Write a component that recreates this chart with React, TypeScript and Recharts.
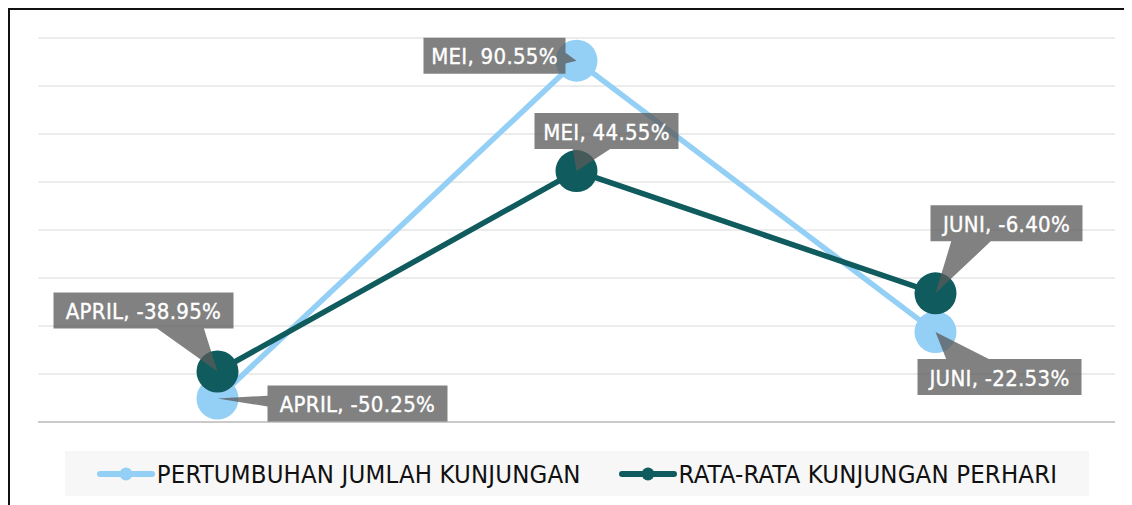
import React from 'react';
import { LineChart, Line, XAxis, YAxis, CartesianGrid, ReferenceLine, Legend, LabelList } from 'recharts';

const months = ['APRIL', 'MEI', 'JUNI'];
const pertumbuhan = [-50.25, 90.55, -22.53];
const rataRata = [-38.95, 44.55, -6.4];
const yTicks = [-60, -40, -20, 0, 20, 40, 60, 80, 100];
const seriesNames = ['PERTUMBUHAN JUMLAH KUNJUNGAN', 'RATA-RATA KUNJUNGAN PERHARI'];

const LIGHT = '#94d0f5';
const DARK = '#0f5b5d';
const FONT = "'DejaVu Sans Condensed', 'DejaVu Sans', sans-serif";

// callout placement (offset of box centre from the point, box width)
const lightPlacement = [
  { dx: 140, dy: 5, w: 180 },
  { dx: -82, dy: -5, w: 142 },
  { dx: 64, dy: 45, w: 164 },
];
const darkPlacement = [
  { dx: -74, dy: -61, w: 180 },
  { dx: 30, dy: -40, w: 144 },
  { dx: 71, dy: -70, w: 152 },
];

const data = months.map((m, i) => ({ month: m, pertumbuhan: pertumbuhan[i], rata: rataRata[i] }));

const clamp = (v: number, a: number, b: number) => Math.max(a, Math.min(b, v));

function makeCallout(placement: { dx: number; dy: number; w: number }[]) {
  return (props: any) => {
    const { x, y, value, index } = props;
    if (x == null || y == null) return null;
    const p = placement[index];
    const w = p.w;
    const h = 36;
    const cx = x + p.dx;
    const cy = y + p.dy;
    const x0 = cx - w / 2, x1 = cx + w / 2, y0 = cy - h / 2, y1 = cy + h / 2;
    let d = '';
    if (y > y1 || y < y0) {
      const hw = w * 0.13;
      const bc = clamp(cx + (x - cx) * 0.5, x0 + hw, x1 - hw);
      const b1 = bc - hw, b2 = bc + hw;
      if (y > y1) {
        d = `M${x0},${y0}H${x1}V${y1}H${b2}L${x},${y}L${b1},${y1}H${x0}Z`;
      } else {
        d = `M${x0},${y0}H${b1}L${x},${y}L${b2},${y0}H${x1}V${y1}H${x0}Z`;
      }
    } else {
      const hh = h * 0.15;
      const bc = clamp(cy + (y - cy) * 0.5, y0 + hh, y1 - hh);
      const b1 = bc - hh, b2 = bc + hh;
      if (x < x0) {
        d = `M${x0},${y0}H${x1}V${y1}H${x0}V${b2}L${x},${y}L${x0},${b1}Z`;
      } else {
        d = `M${x0},${y0}H${x1}V${b1}L${x},${y}L${x1},${b2}V${y1}H${x0}Z`;
      }
    }
    const label = `${months[index]}, ${Number(value).toFixed(2)}%`;
    return (
      <g>
        <path d={d} fill="#595959" fillOpacity={0.76} />
        <text
          x={cx}
          y={cy + 1}
          textAnchor="middle"
          dominantBaseline="central"
          fill="#ffffff"
          stroke="#ffffff"
          strokeWidth={0.35}
          fontSize={22}
          letterSpacing={0.3}
          fontFamily={FONT}
          style={{ fontStretch: 'condensed' }}
        >
          {label}
        </text>
      </g>
    );
  };
}

const LegendIcon = ({ color }: { color: string }) => (
  <svg width={58} height={16} style={{ display: 'block' }}>
    <line x1={3} y1={8} x2={55} y2={8} stroke={color} strokeWidth={6} strokeLinecap="round" />
    <circle cx={29} cy={8} r={6.5} fill={color} />
  </svg>
);

const renderLegend = () => {
  const colors = [LIGHT, DARK];
  return (
    <div
      style={{
        width: '100%',
        height: '100%',
        background: '#f7f7f7',
        display: 'flex',
        alignItems: 'center',
        justifyContent: 'center',
        fontFamily: FONT,
        fontStretch: 'condensed',
        fontSize: 25.5,
        color: '#111',
      }}
    >
      {seriesNames.map((n, i) => (
        <div key={n} style={{ display: 'flex', alignItems: 'center', marginLeft: i === 0 ? 0 : 38 }}>
          <LegendIcon color={colors[i]} />
          <span style={{ marginLeft: 2, whiteSpace: 'nowrap', lineHeight: '26px', letterSpacing: 0.15 }}>{n}</span>
        </div>
      ))}
    </div>
  );
};

export default function App() {
  return (
    <div style={{ position: 'relative', width: 1124, height: 497 }}>
      <div
        style={{
          position: 'absolute',
          left: 0,
          top: 0,
          width: 1130,
          height: 500,
          borderTop: '2px solid #111',
          borderLeft: '2px solid #111',
          boxSizing: 'border-box',
        }}
      />
      <div style={{ position: 'absolute', left: 0, top: 0 }}>
        <LineChart width={1124} height={497} data={data} margin={{ top: 30, right: 17, bottom: 83, left: 30 }}>
          <CartesianGrid vertical={false} stroke="#d9d9d9" strokeWidth={1} />
          <XAxis dataKey="month" hide scale="band" />
          <YAxis hide domain={[-60, 100]} ticks={yTicks} type="number" />
          <ReferenceLine y={-60} stroke="#bfbfbf" strokeWidth={1.5} />
          <Legend
            layout="horizontal"
            verticalAlign="middle"
            align="center"
            content={renderLegend}
            wrapperStyle={{ left: 57, top: 443, width: 1024, height: 45 }}
          />
          <Line
            dataKey="pertumbuhan"
            name={seriesNames[0]}
            stroke={LIGHT}
            strokeWidth={5.5}
            dot={{ r: 21, fill: LIGHT, stroke: 'none' }}
            activeDot={false}
            isAnimationActive={false}
          >
            <LabelList dataKey="pertumbuhan" content={makeCallout(lightPlacement)} />
          </Line>
          <Line
            dataKey="rata"
            name={seriesNames[1]}
            stroke={DARK}
            strokeWidth={5.5}
            dot={{ r: 21, fill: DARK, stroke: 'none' }}
            activeDot={false}
            isAnimationActive={false}
          >
            <LabelList dataKey="rata" content={makeCallout(darkPlacement)} />
          </Line>
        </LineChart>
      </div>
    </div>
  );
}
